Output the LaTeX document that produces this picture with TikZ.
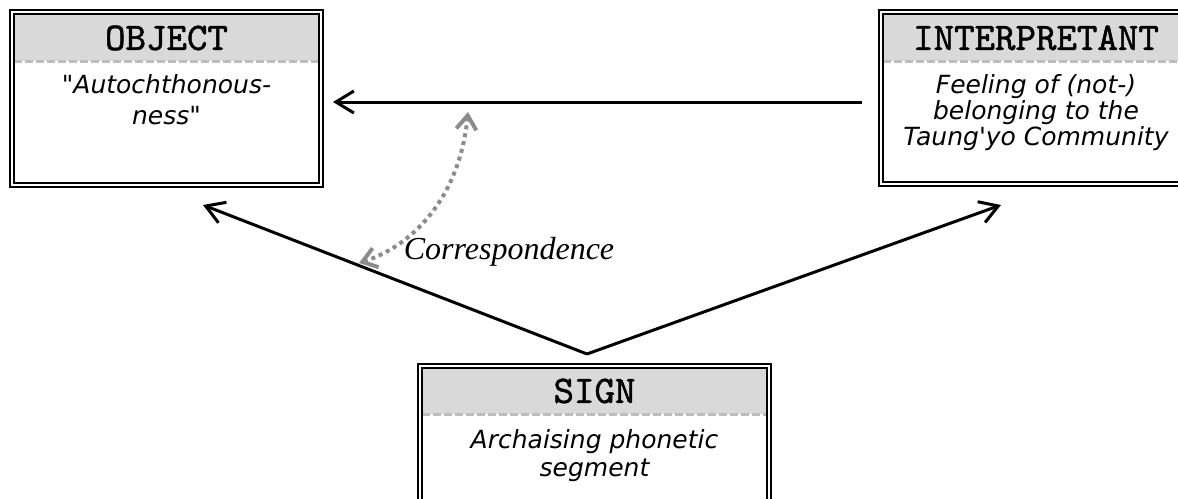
\documentclass[tikz,border=0pt]{standalone}
\usepackage{fontspec}
\setmainfont{Liberation Serif}
\newfontfamily\handfont{DejaVu Sans}
\newfontfamily\headfont{lmmono10-regular.otf}[FakeBold=1.3]
\usetikzlibrary{arrows.meta}
\definecolor{headgray}{HTML}{D9D9D9}
\definecolor{dashgray}{HTML}{BDBDBD}
\definecolor{linkgray}{HTML}{8C8C8C}
% box: #1,#2 upper left corner, #3,#4 lower right corner, #5 height of the header line
\newcommand{\semiobox}[5]{\fill[headgray] (#1+4,#2+4) rectangle (#3-4,#5); \draw[dashgray, line width=1.5pt, dash pattern=on 4pt off 1.5pt] (#1+4,#5) -- (#3-4,#5); \draw[line width=1pt] (#1,#2) rectangle (#3,#4); \draw[line width=0.6pt] (#1+4,#2+4) rectangle (#3-4,#4-4);}
\tikzset{
  headtext/.style={font=\headfont\fontsize{19.5}{19.5}\selectfont, inner sep=0pt},
  bodytext/.style={font=\handfont\itshape\fontsize{12.5}{#1}\selectfont, align=center, anchor=north, inner sep=0pt},
  barbline/.style={line width=1.5pt, -{Straight Barb[length=9pt,width=11pt]}},
  corresp/.style={linkgray, line width=2pt, dash pattern=on 2pt off 2pt, {Straight Barb[length=7pt,width=10pt]}-{Straight Barb[length=7pt,width=10pt]}}
}

\begin{document}
\begin{tikzpicture}[x=0.5pt, y=-0.5pt]
        \clip (0,0) rectangle (1178,498);
        % object
        \semiobox{10}{10}{323}{187}{61}
        \node[headtext] (objhead) at (166.5,38) {OBJECT};
        \node[bodytext=15.5pt] (objbody) at (166.5,74) {"Autochthonous-\\ness"};
        % interpretant
        \semiobox{879}{10}{1193}{186}{61}
        \node[headtext] (inthead) at (1036,38) {INTERPRETANT};
        \node[bodytext=13pt] (intbody) at (1036,74) {Feeling of (not-)\\belonging to the\\Taung\textquotesingle yo Community};
        % sign
        \semiobox{418}{364}{771}{520}{414}
        \node[headtext] (signhead) at (594.5,391) {SIGN};
        \node[bodytext=14pt] (signbody) at (594.5,429) {Archaising phonetic\\segment};
        % arrows
        \coordinate (apex) at (587,354);
        \coordinate (objtip) at (203,205);
        \coordinate (inttip) at (1001,205);
        \coordinate (intfrom) at (862,102);
        \coordinate (objfrom) at (333,102);
        \draw[barbline] (intfrom) -- (objfrom);
        \draw[barbline] (apex) -- (objtip);
        \draw[barbline] (apex) -- (inttip);
        % correspondence
        \coordinate (corrtop) at (468,112);
        \coordinate (corrbot) at (359,263);
        \draw[corresp] (corrtop) .. controls (460,195) and (415,245) .. (corrbot);
        \node[font=\itshape\fontsize{16}{16}\selectfont, inner sep=0pt] (corr) at (509,252) {Correspondence};
    \end{tikzpicture}
\end{document}
